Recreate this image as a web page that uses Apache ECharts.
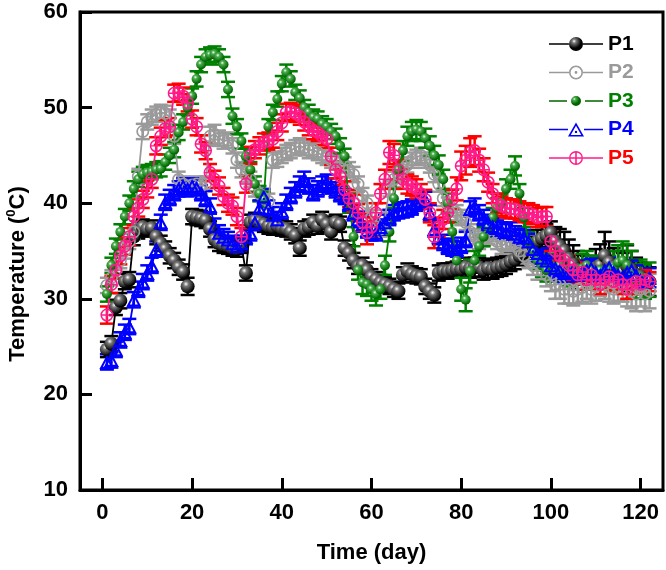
<!DOCTYPE html>
<html><head><meta charset="utf-8">
<script src="https://cdn.jsdelivr.net/npm/echarts@6/dist/echarts.min.js"></script>
<style>html,body{margin:0;padding:0;background:#fff}#c{width:666px;height:570px}</style>
</head><body><div id="c"></div>
<script>
// ---------------- data ----------------
const days = Array.from({length:122}, (_, i) => i + 1);
const xTicks = [0, 20, 40, 60, 80, 100, 120];
const yTicks = [10, 20, 30, 40, 50, 60];
const seriesNames = ['P1', 'P2', 'P3', 'P4', 'P5'];

const p1 = [24.7,25.3,29.1,29.8,31.8,32.0,36.5,37.2,37.5,37.3,
  37.4,36.5,35.8,35.2,34.5,34.0,33.3,32.8,31.3,38.6,
  38.5,38.4,38.2,37.3,36.2,35.8,35.6,35.5,35.3,35.2,
  35.6,32.7,38.0,38.2,38.0,37.8,37.6,37.5,37.6,37.4,
  37.3,37.0,36.6,35.3,37.3,37.5,38.0,37.6,38.3,37.8,
  37.0,38.0,37.8,35.3,34.8,34.0,33.4,33.5,33.0,32.3,
  32.0,31.7,31.5,31.3,31.0,30.8,32.5,32.9,32.6,32.4,
  32.3,31.3,30.8,30.4,32.7,32.9,32.9,33.0,33.1,33.1,
  33.3,33.2,33.3,33.3,33.0,33.2,33.1,33.3,33.4,33.6,
  33.9,34.1,34.5,34.8,35.0,35.5,36.0,36.3,36.6,36.9,
  36.0,35.5,35.0,34.2,33.6,33.0,32.8,33.0,32.6,33.2,
  33.5,34.5,33.8,33.3,33.0,32.8,33.4,33.0,32.5,32.3,32.0,31.8];
const p2 = [31.4,32.2,33.0,34.0,35.0,36.0,37.0,42.8,47.5,48.5,
  49.0,49.3,49.5,49.4,49.0,47.0,42.5,42.0,41.8,41.9,
  42.0,41.8,42.0,47.0,47.2,46.8,46.5,46.6,46.0,44.5,
  43.5,43.0,42.5,41.5,41.0,40.5,40.2,44.5,44.6,45.0,
  45.3,45.5,45.8,46.0,45.8,45.5,45.6,45.3,45.0,44.8,
  44.5,44.3,44.4,44.0,43.5,43.0,42.0,40.8,40.0,38.5,
  37.5,37.3,38.5,41.5,42.5,43.0,43.5,44.0,44.5,44.8,
  45.0,44.5,44.0,43.0,42.0,40.5,39.8,39.5,39.0,38.5,
  38.0,37.0,36.5,36.0,36.3,36.5,36.8,36.0,35.5,35.8,
  36.0,35.5,35.0,34.5,34.0,33.5,33.0,33.0,32.5,32.0,
  31.5,31.5,31.0,31.0,30.8,31.0,31.2,31.5,31.0,31.3,
  31.8,31.5,31.2,31.0,31.3,31.5,31.0,30.8,30.5,31.0,30.5,30.8];
const p3 = [30.5,33.5,35.5,37.0,38.6,40.0,41.5,42.5,43.0,43.2,
  43.3,43.5,43.6,44.3,45.0,45.6,47.4,48.5,50.0,51.2,
  53.0,54.5,55.3,55.5,55.6,55.3,54.5,51.9,49.1,48.0,
  46.5,44.9,43.5,42.0,41.0,40.4,48.0,49.5,50.9,52.5,
  53.7,53.0,51.6,51.0,50.0,49.5,49.0,48.8,48.3,48.0,
  47.5,47.0,46.0,44.9,40.0,36.5,33.0,31.7,31.5,31.0,
  30.5,31.0,33.5,37.0,40.5,43.5,45.5,47.0,47.5,47.7,
  47.5,46.8,46.0,45.0,44.0,42.5,40.0,37.0,34.0,31.0,
  29.9,32.9,34.0,35.5,36.5,37.5,38.5,39.5,40.0,41.5,
  42.5,43.9,41.0,38.5,36.0,35.0,34.0,33.5,33.0,33.5,
  33.0,33.5,33.0,32.5,33.0,32.8,33.2,33.5,33.0,32.8,
  33.0,32.5,33.0,33.2,33.8,34.0,33.5,32.5,32.0,32.3,31.8,32.0];
const p4 = [23.4,23.6,24.7,25.7,26.5,27.1,29.9,31.0,31.8,32.7,
  33.5,35.2,38.0,40.1,40.6,41.1,41.5,41.8,41.5,41.8,
  41.6,41.1,40.5,39.7,37.6,36.9,36.5,36.2,35.8,35.5,
  35.8,36.5,36.9,38.0,39.5,40.7,39.5,38.8,38.3,39.2,
  40.1,40.8,41.4,42.0,42.5,41.8,41.1,41.5,42.0,42.2,
  41.8,41.4,41.0,40.7,40.0,39.0,38.3,37.8,37.2,36.9,
  36.9,37.5,38.0,38.5,39.0,39.2,39.3,39.4,39.6,40.0,
  40.2,40.4,39.0,37.3,36.5,35.9,35.5,35.3,35.2,35.6,
  36.2,39.4,39.7,39.0,38.5,38.0,37.6,37.4,37.2,37.0,
  37.2,36.8,36.5,36.4,36.0,35.2,34.8,34.3,34.0,33.5,
  33.2,33.0,32.7,32.8,33.0,32.5,32.8,33.0,33.2,32.8,
  32.5,33.0,33.3,32.8,32.5,32.3,32.8,33.0,32.5,32.0,31.8,32.2];
const p5 = [28.3,31.5,33.0,34.5,35.5,36.5,38.6,39.5,40.4,41.5,
  42.5,46.0,47.0,47.8,48.0,51.5,51.6,51.2,50.5,48.8,
  48.0,46.2,45.5,43.2,42.5,41.8,40.7,40.0,39.7,38.6,
  36.5,42.0,45.0,45.6,46.0,46.4,46.5,46.7,47.5,48.4,
  49.5,49.6,49.4,49.1,48.5,48.0,47.6,47.4,47.0,46.7,
  44.9,43.5,42.8,41.4,40.5,40.0,39.0,38.0,36.9,37.5,
  39.0,41.0,42.5,45.3,45.0,43.5,42.5,42.0,41.8,41.5,
  41.0,40.4,39.0,36.5,37.5,38.3,39.0,40.4,41.5,43.9,
  44.5,45.3,45.5,44.5,43.5,42.2,41.0,40.0,39.7,39.5,
  39.4,39.4,39.2,39.0,39.0,38.8,38.5,38.6,38.6,36.0,
  35.0,34.5,34.0,33.5,33.0,32.5,32.8,32.0,32.5,32.0,
  31.5,32.0,32.3,31.8,32.0,31.5,31.0,31.5,31.8,31.5,32.0,31.8];

const e1 = [0.8,0.8,0.8,0.8,0.8,0.8,0.9,0.9,0.8,0.8,
  0.8,0.8,0.8,0.8,0.8,0.8,0.8,0.8,0.9,0.8,
  0.8,0.8,0.8,0.8,0.8,0.8,0.8,0.8,0.8,0.8,
  0.8,0.8,0.8,0.8,0.8,0.8,0.8,0.8,0.8,0.8,
  0.8,0.8,0.8,0.8,0.8,0.8,0.8,0.8,0.8,0.8,
  0.8,0.8,0.8,0.8,0.8,0.8,0.8,0.8,0.8,0.8,
  0.8,0.8,0.8,0.8,0.8,0.8,0.8,0.8,0.8,0.8,
  0.8,0.8,0.8,0.8,0.8,0.8,0.8,0.8,0.8,0.8,
  1.0,1.0,1.0,1.0,1.0,1.0,1.0,1.0,1.0,1.0,
  1.0,1.0,1.0,1.0,1.0,1.0,1.2,1.2,1.2,1.2,
  1.5,1.8,2.0,2.0,2.0,2.0,1.8,1.5,1.5,2.0,
  2.2,2.5,2.2,2.0,2.0,2.0,2.2,2.0,1.8,1.5,1.5,1.5];
const e2 = [0.8,0.8,0.8,0.8,0.8,0.8,0.8,0.8,0.8,0.8,
  0.8,0.8,0.8,0.8,0.8,0.8,0.8,0.8,0.8,0.8,
  0.8,0.8,0.8,1.0,1.0,0.8,0.8,0.8,0.8,0.8,
  0.8,0.8,0.8,0.8,0.8,0.8,0.8,0.8,0.8,0.8,
  0.8,0.8,0.8,0.8,0.8,0.8,0.8,0.8,0.8,0.8,
  0.8,0.8,0.8,0.8,0.8,0.8,0.8,0.8,0.8,0.8,
  0.8,0.8,0.8,0.8,0.8,0.8,0.8,0.8,0.8,0.8,
  0.8,0.8,0.8,0.8,0.8,0.8,0.8,0.8,0.8,0.8,
  0.8,0.8,0.8,0.8,0.8,0.8,0.8,0.8,0.8,0.8,
  0.8,0.8,0.8,0.8,0.8,1.0,1.0,1.0,1.2,1.2,
  1.5,1.5,1.5,1.5,1.5,1.5,1.5,1.5,1.5,1.5,
  1.5,1.5,1.5,1.5,1.5,1.8,1.8,1.8,1.8,1.8,1.8,1.8];
const e3 = [0.8,0.8,0.8,0.8,0.8,0.8,0.8,0.8,0.8,0.8,
  0.8,0.8,0.8,0.8,0.8,0.8,0.8,0.8,0.8,0.8,
  0.8,0.8,0.8,0.8,0.8,0.8,0.8,0.8,0.8,0.8,
  0.8,0.8,0.8,0.8,0.8,0.8,0.8,0.8,0.8,0.8,
  0.8,0.8,0.8,0.8,0.8,0.8,0.8,0.8,0.8,0.8,
  0.8,0.8,0.8,0.8,1.0,1.0,1.0,1.2,1.2,1.2,
  1.2,1.0,1.0,1.0,1.0,1.0,1.0,1.0,1.0,1.0,
  1.0,1.0,1.0,1.0,1.0,1.0,1.0,1.0,1.0,1.2,
  1.2,1.2,1.0,1.0,1.0,1.0,1.0,1.0,1.0,1.0,
  1.0,1.0,1.0,1.0,1.0,1.0,1.0,1.2,1.2,1.2,
  1.2,1.2,1.2,1.2,1.2,1.2,1.5,1.5,1.5,1.5,
  1.5,1.5,1.5,1.8,1.8,2.0,2.2,2.5,2.0,1.8,1.8,1.8];
const e4 = [0.8,0.8,0.8,0.8,0.8,0.8,0.8,0.8,0.8,0.8,
  0.8,0.8,0.8,0.8,0.8,0.8,0.8,0.8,0.8,0.8,
  0.8,0.8,0.8,0.8,0.8,0.8,0.8,0.8,0.8,0.8,
  0.8,0.8,0.8,0.8,0.8,0.8,0.8,0.8,0.8,0.8,
  0.8,0.8,0.8,0.8,0.8,0.8,0.8,0.8,0.8,0.8,
  0.8,0.8,0.8,0.8,0.8,0.8,0.8,0.8,0.8,0.8,
  0.8,0.8,0.8,0.8,0.8,0.8,0.8,0.8,0.8,0.8,
  0.8,0.8,0.8,0.8,0.8,0.8,0.8,0.8,0.8,0.8,
  0.8,0.8,0.8,0.8,0.8,0.8,0.8,0.8,0.8,0.8,
  0.8,0.8,0.8,0.8,0.8,0.8,1.0,1.0,1.0,1.0,
  1.0,1.0,1.0,1.0,1.0,1.0,1.0,1.0,1.0,1.0,
  1.0,1.0,1.0,1.0,1.0,1.0,1.0,1.0,1.0,1.0,1.0,1.0];
const e5 = [0.9,0.9,0.9,0.9,0.9,0.9,0.9,0.9,0.9,0.9,
  0.9,0.9,0.9,0.9,0.9,0.9,0.9,0.9,0.9,0.9,
  0.9,0.9,0.9,0.9,0.9,0.9,0.9,0.9,0.9,0.9,
  0.9,0.9,0.9,0.9,0.9,0.9,0.9,0.9,0.9,0.9,
  0.9,0.9,0.9,0.9,0.9,0.9,0.9,0.9,0.9,0.9,
  0.9,0.9,0.9,0.9,0.9,0.9,0.9,0.9,1.2,1.0,
  1.0,1.0,1.0,1.2,1.2,1.0,1.0,1.0,1.0,1.0,
  1.0,1.0,1.0,1.2,1.0,1.0,1.0,1.0,1.2,1.5,
  1.5,1.5,1.5,1.2,1.2,1.0,1.0,1.0,1.0,1.0,
  1.0,1.0,1.0,1.0,1.0,1.0,1.0,1.0,1.0,1.0,
  1.0,1.0,1.0,1.0,1.0,1.0,1.0,1.0,1.0,1.0,
  1.0,1.0,1.0,1.0,1.0,1.0,1.0,1.0,1.0,1.0,1.0,1.0];

// ---------------- styles ----------------
const FONT = "'Liberation Sans', Arial, Helvetica, sans-serif";
const COL = {P1:'#000000', P2:'#9a9a9a', P3:'#008000', P4:'#0000ff', P5:'#ff1a8c'};
const ERRCOL = {P1:'#000000', P2:'#9a9a9a', P3:'#008000', P4:'#0000ff', P5:'#ff0000'};
const TXTCOL = {P1:'#000000', P2:'#9a9a9a', P3:'#008000', P4:'#0000ff', P5:'#ff0000'};

function ballGrad(base, mid, x, y, r) {
  return {type:'radial', x:x, y:y, r:r, colorStops:[
    {offset:0, color:'#ffffff'}, {offset:0.28, color:mid}, {offset:1, color:base}]};
}

const SYM = {
  P1: 'circle',
  P2: 'path://M0 -10 A10 10 0 1 1 0 10 A10 10 0 1 1 0 -10 Z M0 -7.4 A7.4 7.4 0 1 0 0 7.4 A7.4 7.4 0 1 0 0 -7.4 Z M0 -2.2 A2.2 2.2 0 1 1 0 2.2 A2.2 2.2 0 1 1 0 -2.2 Z',
  P3: 'circle',
  P4: 'path://M10 0 L20 18 L0 18 Z M10 5.6 L4.7 15.2 L15.3 15.2 Z M8.5 12.1 A1.5 1.5 0 1 1 11.5 12.1 A1.5 1.5 0 1 1 8.5 12.1 Z',
  P5: 'path://M0 -10 A10 10 0 1 1 0 10 A10 10 0 1 1 0 -10 Z M0 -7.6 A7.6 7.6 0 1 0 0 7.6 A7.6 7.6 0 1 0 0 -7.6 Z M-1.1 -7.6 L1.1 -7.6 L1.1 -1.1 L7.6 -1.1 L7.6 1.1 L1.1 1.1 L1.1 7.6 L-1.1 7.6 L-1.1 1.1 L-7.6 1.1 L-7.6 -1.1 L-1.1 -1.1 Z'
};
const SYMSIZE = {P1:14, P2:13, P3:10, P4:[15,14], P5:13};
const SYMCOLOR = {
  P1: ballGrad('#000000', '#7a7a7a', 0.38, 0.33, 0.62),
  P2: COL.P2,
  P3: ballGrad('#006400', '#4caf50', 0.38, 0.33, 0.62),
  P4: COL.P4,
  P5: COL.P5
};

const BARS = (a, b) => `M0 6.2 L${a} 6.2 L${a} 7.8 L0 7.8 Z M${b} 6.2 L54 6.2 L54 7.8 L${b} 7.8 Z`;
const ICON = {
  P1: 'path://' + BARS(20, 34) + ' M20 7 A7 7 0 1 1 34 7 A7 7 0 1 1 20 7 Z',
  P2: 'path://' + BARS(20, 34) + ' M20 7 A7 7 0 1 1 34 7 A7 7 0 1 1 20 7 Z M21.6 7 A5.4 5.4 0 1 0 32.4 7 A5.4 5.4 0 1 0 21.6 7 Z M25.6 7 A1.4 1.4 0 1 1 28.4 7 A1.4 1.4 0 1 1 25.6 7 Z',
  P3: 'path://' + BARS(18, 36) + ' M22 7 A5 5 0 1 1 32 7 A5 5 0 1 1 22 7 Z',
  P4: 'path://' + BARS(19, 35) + ' M27 0 L35 14 L19 14 Z M27 3.23 L21.76 12.4 L32.24 12.4 Z M25.8 9.4 A1.2 1.2 0 1 1 28.2 9.4 A1.2 1.2 0 1 1 25.8 9.4 Z',
  P5: 'path://' + BARS(20, 34) + ' M20 7 A7 7 0 1 1 34 7 A7 7 0 1 1 20 7 Z M21.4 7 A5.6 5.6 0 1 0 32.6 7 A5.6 5.6 0 1 0 21.4 7 Z M26.2 1.4 L27.8 1.4 L27.8 6.2 L32.6 6.2 L32.6 7.8 L27.8 7.8 L27.8 12.6 L26.2 12.6 L26.2 7.8 L21.4 7.8 L21.4 6.2 L26.2 6.2 Z'
};
const ICONCOLOR = {
  P1: ballGrad('#000000', '#7a7a7a', 0.465, 0.3, 0.5),
  P2: COL.P2,
  P3: ballGrad('#006400', '#4caf50', 0.47, 0.3, 0.5),
  P4: COL.P4,
  P5: COL.P5
};

const values = {P1:p1, P2:p2, P3:p3, P4:p4, P5:p5};
const errors = {P1:e1, P2:e2, P3:e3, P4:e4, P5:e5};

function errSeries(name) {
  const v = values[name], e = errors[name], color = ERRCOL[name];
  return {
    type: 'custom', name: name + ' err', silent: true, animation: false,
    data: days.map((d, i) => [d, +(v[i] - e[i]).toFixed(2), +(v[i] + e[i]).toFixed(2)]),
    encode: {x: 0, y: [1, 2]},
    renderItem: function (params, api) {
      const x = api.value(0);
      const lo = api.coord([x, api.value(1)]);
      const hi = api.coord([x, api.value(2)]);
      const w = 7, st = {stroke: color, lineWidth: 2.5};
      return {type: 'group', children: [
        {type: 'line', shape: {x1: lo[0], y1: lo[1], x2: hi[0], y2: hi[1]}, style: st},
        {type: 'line', shape: {x1: lo[0] - w, y1: lo[1], x2: lo[0] + w, y2: lo[1]}, style: st},
        {type: 'line', shape: {x1: hi[0] - w, y1: hi[1], x2: hi[0] + w, y2: hi[1]}, style: st}
      ]};
    }
  };
}
function lineSeries(name) {
  return {
    type: 'line', name: name, animation: false,
    data: days.map((d, i) => [d, values[name][i]]),
    symbol: SYM[name], symbolSize: SYMSIZE[name], showAllSymbol: true,
    itemStyle: {color: SYMCOLOR[name], borderWidth: 0},
    lineStyle: {color: COL[name], width: 1.8},
    emphasis: {disabled: true}
  };
}

const series = [];
seriesNames.forEach(n => { series.push(lineSeries(n)); series.push(errSeries(n)); });

const chart = echarts.init(document.getElementById('c'), null, {renderer: 'canvas'});
chart.setOption({
  animation: false,
  backgroundColor: '#ffffff',
  grid: {left: 80, right: 3, top: 12, bottom: 80, show: true, borderColor: '#000', borderWidth: 3,
         containLabel: false, outerBoundsMode: 'none'},
  legend: {
    orient: 'vertical', left: 544, top: 28, padding: 5, itemWidth: 54, itemHeight: 14, itemGap: 6.5,
    selectedMode: false,
    textStyle: {fontSize: 21, fontWeight: 'bold', fontFamily: FONT, lineHeight: 22},
    data: seriesNames.map(n => ({name: n, icon: ICON[n], itemStyle: {color: ICONCOLOR[n], borderWidth: 0}, textStyle: {color: TXTCOL[n]}}))
  },
  xAxis: {
    type: 'value', min: -5, max: 125,
    name: 'Time (day)', nameLocation: 'middle', nameGap: 52,
    nameTextStyle: {fontSize: 22, fontWeight: 'bold', color: '#000', fontFamily: FONT},
    axisLine: {show: true, onZero: false, lineStyle: {color: '#000', width: 3}},
    axisTick: {show: true, inside: true, length: 12, lineStyle: {color: '#000', width: 3}, customValues: xTicks},
    axisLabel: {fontSize: 22, fontWeight: 'bold', color: '#000', fontFamily: FONT, margin: 12, customValues: xTicks},
    splitLine: {show: false}
  },
  yAxis: {
    type: 'value', min: 10, max: 60, interval: 10,
    name: '{a|Temperature (}{s|0}{a|C)}', nameLocation: 'middle', nameGap: 49,
    nameTextStyle: {padding: [0, 46, 0, 0], rich: {
      a: {fontSize: 22, fontWeight: 'bold', color: '#000', fontFamily: FONT, lineHeight: 26},
      s: {fontSize: 13, fontWeight: 'bold', color: '#000', fontFamily: FONT, verticalAlign: 'top', lineHeight: 15}
    }},
    axisLine: {show: true, onZero: false, lineStyle: {color: '#000', width: 3}},
    axisTick: {show: true, inside: true, length: 12, lineStyle: {color: '#000', width: 3}, customValues: yTicks},
    axisLabel: {fontSize: 22, fontWeight: 'bold', color: '#000', fontFamily: FONT, margin: 12, customValues: yTicks},
    splitLine: {show: false}
  },
  series: series
});
</script>
</body></html>
